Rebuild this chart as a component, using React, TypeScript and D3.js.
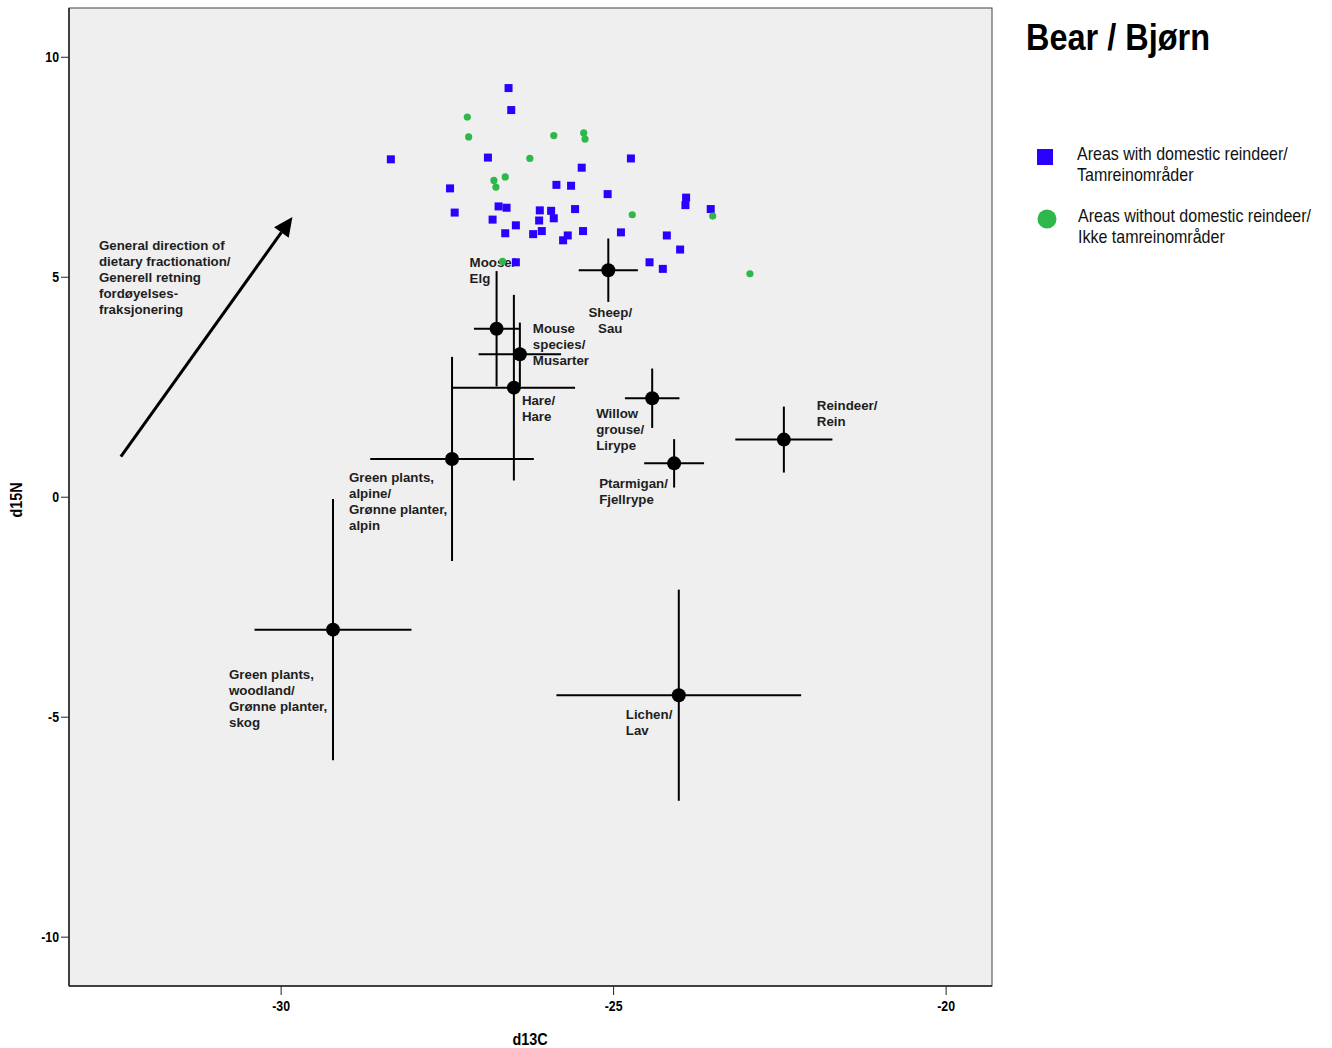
import * as d3 from 'd3';

// d13C / d15N for the bear samples
const domesticC = [-26.58, -26.54, -28.35, -26.89, -27.46, -27.39, -26.73, -26.61, -26.82, -26.47, -26.63, -25.86, -25.64, -25.48, -24.74, -25.09, -26.11, -25.94, -25.90, -26.12, -25.58, -26.21, -26.08, -25.69, -25.76, -25.46, -24.89, -23.91, -23.92, -23.54, -24.20, -24.00, -24.46, -24.26, -26.47];
const domesticN = [9.30, 8.80, 7.68, 7.72, 7.02, 6.47, 6.61, 6.58, 6.31, 6.18, 6.00, 7.10, 7.08, 7.49, 7.70, 6.89, 6.52, 6.51, 6.34, 6.29, 6.55, 5.98, 6.05, 5.95, 5.84, 6.05, 6.02, 6.81, 6.64, 6.55, 5.95, 5.63, 5.34, 5.19, 5.34];
const wildC = [-27.20, -27.18, -25.90, -25.45, -25.43, -26.26, -26.80, -26.63, -26.77, -24.72, -23.51, -22.95, -26.67];
const wildN = [8.64, 8.19, 8.22, 8.28, 8.14, 7.70, 7.20, 7.28, 7.05, 6.42, 6.39, 5.08, 5.36];

// food sources: mean +/- sd
const sources = ['Moose', 'Mouse', 'Hare', 'Alpine', 'Woodland', 'Lichen', 'Willow', 'Ptarmigan', 'Reindeer', 'Sheep'];
const meanC = [-26.76, -26.41, -26.50, -27.43, -29.22, -24.02, -24.42, -24.09, -22.44, -25.08];
const meanN = [3.83, 3.25, 2.49, 0.87, -3.01, -4.50, 2.25, 0.77, 1.31, 5.16];
const sdC = [0.34, 0.62, 0.92, 1.23, 1.18, 1.84, 0.41, 0.45, 0.73, 0.445];
const sdN = [1.31, 0.72, 2.11, 2.32, 2.97, 2.40, 0.675, 0.55, 0.75, 0.72];
const sourceLabels = [
  ['Moose/', 'Elg'],
  ['Mouse', 'species/', 'Musarter'],
  ['Hare/', 'Hare'],
  ['Green plants,', 'alpine/', 'Grønne planter,', 'alpin'],
  ['Green plants,', 'woodland/', 'Grønne planter,', 'skog'],
  ['Lichen/', 'Lav'],
  ['Willow', 'grouse/', 'Lirype'],
  ['Ptarmigan/', 'Fjellrype'],
  ['Reindeer/', 'Rein'],
  ['Sheep/', 'Sau'],
];
// label offset from the mean, in px
const labelOffset: [number, number, string][] = [
  [-27, -62, 'start'], [13, -21, 'start'], [8, 17, 'start'], [-103, 23, 'start'], [-104, 49, 'start'],
  [-53, 24, 'start'], [-56, 20, 'start'], [-75, 25, 'start'], [33, -30, 'start'], [2, 47, 'middle'],
];

const arrowFrom = [-32.41, 0.92];
const arrowTo = [-29.83, 6.37];
const arrowText = ['General direction of', 'dietary fractionation/', 'Generell retning', 'fordøyelses-', 'fraksjonering'];

const xTicks = [-30, -25, -20];
const yTicks = [-10, -5, 0, 5, 10];

const legendItems = [
  { shape: 'square', lines: ['Areas with domestic reindeer/', 'Tamreinområder'] },
  { shape: 'circle', lines: ['Areas without domestic reindeer/', 'Ikke tamreinområder'] },
];

const BLUE = '#2b00ff';
const GREEN = '#2fb84a';
const FONT = '"Liberation Sans", Arial, sans-serif';

const left = 69, top = 8, right = 992, bottom = 986;

export default function App() {
  const x = d3.scaleLinear().domain([-33.19, -19.31]).range([left, right]);
  const y = d3.scaleLinear().domain([-11.11, 11.12]).range([bottom, top]);

  const ax0 = x(arrowFrom[0]), ay0 = y(arrowFrom[1]);
  const ax1 = x(arrowTo[0]), ay1 = y(arrowTo[1]);
  const len = Math.hypot(ax1 - ax0, ay1 - ay0);
  const ux = (ax1 - ax0) / len, uy = (ay1 - ay0) / len;
  const hl = 19, hw = 9;
  const bx = ax1 - ux * hl, by = ay1 - uy * hl;
  const head = `${ax1},${ay1} ${bx - uy * hw},${by + ux * hw} ${bx + uy * hw},${by - ux * hw}`;

  return (
    <svg width={1332} height={1048} style={{ position: 'absolute', left: 0, top: 0, background: '#fff' }} fontFamily={FONT}>
      <rect x={left} y={top} width={right - left} height={bottom - top} fill="#efefef" stroke="#444" strokeWidth={1} />
      <line x1={left} x2={left} y1={top} y2={bottom} stroke="#222" strokeWidth={1.5} />
      <line x1={left} x2={right} y1={bottom} y2={bottom} stroke="#222" strokeWidth={1.5} />

      {/* axes */}
      {yTicks.map(t => (
        <g key={'y' + t}>
          <line x1={left - 8} x2={left} y1={y(t)} y2={y(t)} stroke="#222" strokeWidth={1} />
          <text x={left - 10} y={y(t) + 5} textAnchor="end" fontSize={14.5} fontWeight="bold"
            transform={`translate(${left - 10},0) scale(0.85,1) translate(${-(left - 10)},0)`}>{t}</text>
        </g>
      ))}
      {xTicks.map(t => (
        <g key={'x' + t}>
          <line x1={x(t)} x2={x(t)} y1={bottom} y2={bottom + 9} stroke="#222" strokeWidth={1} />
          <text x={x(t)} y={1011} textAnchor="middle" fontSize={14.5} fontWeight="bold"
            transform={`translate(${x(t)},0) scale(0.85,1) translate(${-x(t)},0)`}>{t}</text>
        </g>
      ))}
      <text x={530} y={1045} textAnchor="middle" fontSize={16} fontWeight="bold"
        transform="translate(530,0) scale(0.9,1) translate(-530,0)">d13C</text>
      <text transform="translate(22,500) rotate(-90) scale(0.9,1)" textAnchor="middle" fontSize={16} fontWeight="bold">d15N</text>

      {/* error bars */}
      {sources.map((s, i) => (
        <g key={s} stroke="#000" strokeWidth={2}>
          <line x1={x(meanC[i] - sdC[i])} x2={x(meanC[i] + sdC[i])} y1={y(meanN[i])} y2={y(meanN[i])} />
          <line x1={x(meanC[i])} x2={x(meanC[i])} y1={y(meanN[i] + sdN[i])} y2={y(meanN[i] - sdN[i])} />
          <circle cx={x(meanC[i])} cy={y(meanN[i])} r={7} fill="#000" stroke="none" />
        </g>
      ))}

      {/* labels */}
      {sources.map((s, i) => {
        const [dx, dy, anchor] = labelOffset[i];
        return (
          <text key={'l' + s} x={x(meanC[i]) + dx} y={y(meanN[i]) + dy} fontSize={13.3} fontWeight="bold" fill="#1e1e1e" textAnchor={anchor}>
            {sourceLabels[i].map((l, j) => (
              <tspan key={j} x={x(meanC[i]) + dx} dy={j === 0 ? 0 : 16}>{l}</tspan>
            ))}
          </text>
        );
      })}

      {/* arrow */}
      <line x1={ax0} y1={ay0} x2={bx} y2={by} stroke="#000" strokeWidth={3} />
      <polygon points={head} fill="#000" />
      <text x={99} y={250} fontSize={13.3} fontWeight="bold" fill="#1e1e1e">
        {arrowText.map((l, j) => (
          <tspan key={j} x={99} dy={j === 0 ? 0 : 16}>{l}</tspan>
        ))}
      </text>

      {/* samples */}
      {domesticC.map((c, i) => (
        <rect key={'d' + i} x={x(c) - 4} y={y(domesticN[i]) - 4} width={8} height={8} fill={BLUE} />
      ))}
      {wildC.map((c, i) => (
        <circle key={'w' + i} cx={x(c)} cy={y(wildN[i])} r={3.6} fill={GREEN} />
      ))}

      {/* title + legend */}
      <text x={1026} y={50} fontSize={36} fontWeight="bold" textLength={184} lengthAdjust="spacingAndGlyphs">Bear / Bjørn</text>
      {legendItems.map((it, i) => {
        const cy = 157 + i * 62;
        return (
          <g key={'lg' + i}>
            {it.shape === 'square'
              ? <rect x={1037} y={cy - 8} width={16} height={16} fill={BLUE} />
              : <circle cx={1047} cy={cy} r={9.5} fill={GREEN} />}
            <g transform={`translate(${1077 + (i ? 1 : 0)},${cy + 3}) scale(0.89,1)`}>
              <text x={0} y={0} fontSize={18} fill="#111">
                {it.lines.map((l, j) => (
                  <tspan key={j} x={0} dy={j === 0 ? 0 : 21.5}>{l}</tspan>
                ))}
              </text>
            </g>
          </g>
        );
      })}
    </svg>
  );
}
